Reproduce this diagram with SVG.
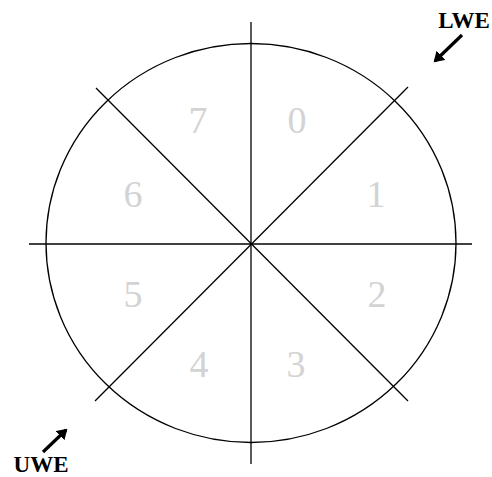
<svg xmlns="http://www.w3.org/2000/svg" width="492" height="477" viewBox="0 0 492 477">
<style>
.ln{stroke:#000;stroke-width:1.3;fill:none}
.num{font-family:"Liberation Serif","Times New Roman",serif;font-size:38px;fill:#d3d3d3;text-anchor:middle}
.lbl{font-family:"Liberation Serif","Times New Roman",serif;font-size:23px;font-weight:bold;fill:#000;text-anchor:middle}
.arr{stroke:#000;stroke-width:3.2;fill:none;marker-end:url(#ah)}
</style>
<defs>
<marker id="ah" markerWidth="4" markerHeight="4" refX="2.6" refY="2" orient="auto" markerUnits="strokeWidth">
<path d="M0,0 L3.2,2 L0,4 z" fill="#000"/>
</marker>
</defs>
<rect width="492" height="477" fill="#fff"/>
<g id="wheel">
<ellipse class="ln" cx="251" cy="243" rx="205" ry="199.5"/>
</g>
<g id="connectors">
<line class="ln" x1="251" y1="22" x2="251" y2="464"/>
<line class="ln" x1="29" y1="244" x2="472" y2="244"/>
<line class="ln" x1="96" y1="88" x2="408" y2="401"/>
<line class="ln" x1="408" y1="87" x2="95" y2="401"/>
<line class="arr" x1="462" y1="35" x2="435" y2="61"/>
<line class="arr" x1="43" y1="452" x2="66" y2="430"/>
</g>
<g id="sectors">
<text class="num" x="297" y="133">0</text>
<text class="num" x="376" y="207">1</text>
<text class="num" x="377" y="307">2</text>
<text class="num" x="296" y="377">3</text>
<text class="num" x="199" y="377">4</text>
<text class="num" x="133" y="307">5</text>
<text class="num" x="133" y="207">6</text>
<text class="num" x="198" y="133">7</text>
</g>
<g id="lwe"><text class="lbl" x="464" y="28">LWE</text></g>
<g id="uwe"><text class="lbl" x="41" y="472">UWE</text></g>
</svg>
